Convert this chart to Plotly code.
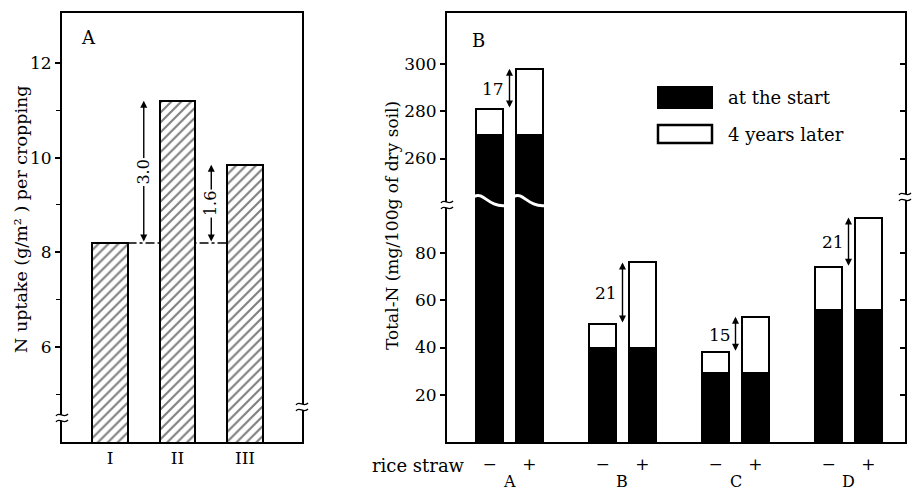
import plotly.graph_objects as go

W, H = 912, 492
FONT = "DejaVu Serif"

# ---------------- data ----------------
# Panel A: N uptake per cropping
a_categories = ["I", "II", "III"]
a_uptake = [8.2, 11.2, 9.85]
a_diff_labels = ["3.0", "1.6"]
a_yticks = [6, 8, 10, 12]
a_minor_ticks = [5, 7, 9, 11]

# Panel B: Total-N in soils
b_soils = ["A", "B", "C", "D"]
b_straw = ["\u2212", "+"]
b_start = [270, 40, 29, 56]
b_later_minus = [281, 50, 38, 74]
b_later_plus = [298, 76, 53, 95]
b_diff_labels = ["17", "21", "15", "21"]
b_yticks = [20, 40, 60, 80, 260, 280, 300]
BREAK_SHIFT = 140   # values above the axis break are drawn this much lower


def disp(v):
    return v - BREAK_SHIFT if v > 200 else v


# ---------------- helpers (pixel -> paper for decorations) ----------------
def X(p):
    return p / W


def Y(p):
    return 1 - p / H


A_DOM = [X(62), X(302)]
B_DOM = [X(447), X(905)]
Y_DOM = [Y(442), Y(13)]

fig = go.Figure()

# ---- Panel A bars ----
a_x = list(range(len(a_categories)))
fig.add_trace(go.Bar(
    x=a_x, y=a_uptake, width=0.52, xaxis="x", yaxis="y",
    marker=dict(color="white", line=dict(color="black", width=2),
                pattern=dict(shape="/", fgcolor="black", bgcolor="white",
                             size=7, solidity=0.3)),
    showlegend=False, hoverinfo="skip"))

# ---- Panel B bars ----
offsets = [-0.175, 0.175]
bx, b_base, b_top = [], [], []
for i in range(len(b_soils)):
    for j, later in enumerate([b_later_minus[i], b_later_plus[i]]):
        bx.append(i + offsets[j])
        b_base.append(disp(b_start[i]))
        b_top.append(disp(later))

fig.add_trace(go.Bar(
    x=bx, y=b_base, width=0.24, xaxis="x2", yaxis="y2",
    marker=dict(color="black", line=dict(color="black", width=2)),
    showlegend=False, hoverinfo="skip"))
fig.add_trace(go.Bar(
    x=bx, y=[t - b for t, b in zip(b_top, b_base)], base=b_base, width=0.24,
    xaxis="x2", yaxis="y2",
    marker=dict(color="white", line=dict(color="black", width=2)),
    showlegend=False, hoverinfo="skip"))
fig.add_trace(go.Scatter(x=[None], y=[None], xaxis="x2", yaxis="y3",
                         showlegend=False, hoverinfo="skip"))

shapes = []
annotations = []

# ---- Panel A reference line and difference arrows ----
shapes.append(dict(type="line", xref="x", yref="y", layer="below",
                   x0=a_x[0] + 0.26, x1=a_x[2] - 0.26,
                   y0=a_uptake[0], y1=a_uptake[0],
                   line=dict(color="black", width=1.5, dash="dashdot")))
for k, lab in enumerate(a_diff_labels):
    xm = a_x[k] + 0.5
    top = a_uptake[k + 1]
    annotations.append(dict(xref="x", yref="y", axref="x", ayref="y",
                            x=xm, y=top, ax=xm, ay=a_uptake[0], text="",
                            showarrow=True, arrowside="end+start", arrowhead=2,
                            arrowsize=1, arrowwidth=1.4, arrowcolor="black"))
    annotations.append(dict(xref="x", yref="y", x=xm, y=(top + a_uptake[0]) / 2,
                            text=lab, textangle=-90, showarrow=False,
                            xanchor="center", yanchor="middle",
                            bgcolor="white", borderpad=1,
                            font=dict(family=FONT, size=16, color="black")))

# ---- Panel B difference arrows ----
for i, lab in enumerate(b_diff_labels):
    lo, hi = disp(b_later_minus[i]), disp(b_later_plus[i])
    annotations.append(dict(xref="x2", yref="y2", axref="x2", ayref="y2",
                            x=i, y=hi, ax=i, ay=lo, text="",
                            showarrow=True, arrowside="end+start", arrowhead=2,
                            arrowsize=1, arrowwidth=1.4, arrowcolor="black"))
    annotations.append(dict(xref="x2", yref="y2", x=i, y=(lo + hi) / 2,
                            text=lab, showarrow=False, xanchor="right",
                            yanchor="middle", xshift=-3,
                            font=dict(family=FONT, size=17, color="black")))

# wavy break across the tall bars of soil A
for j in range(2):
    xc = 0 + offsets[j]
    x0, x1 = xc - 0.135, xc + 0.135
    w = x1 - x0
    shapes.append(dict(type="path", xref="x2", yref="y2",
                       path=f"M {x0},{104} C {x0 + 0.3 * w},{106} {x0 + 0.45 * w},{99.5} {x1},{100}",
                       line=dict(color="white", width=3)))

# axis break marks
def squiggle(xp, yp):
    out = [dict(type="line", xref="paper", yref="paper", x0=X(xp), x1=X(xp),
                y0=Y(yp - 3), y1=Y(yp + 3), line=dict(color="white", width=4))]
    for dy in (-3, 3):
        yy = yp + dy
        out.append(dict(type="path", xref="paper", yref="paper",
                        path=(f"M {X(xp - 6)},{Y(yy + 1)} "
                              f"C {X(xp - 3)},{Y(yy - 4)} {X(xp + 2)},{Y(yy + 4)} {X(xp + 6)},{Y(yy - 1)}"),
                        line=dict(color="black", width=1.3)))
    return out

shapes += squiggle(62, 418)
shapes += squiggle(302, 407)
shapes += squiggle(447, 205)
shapes += squiggle(905, 197)

# ---- custom legend ----
shapes.append(dict(type="rect", xref="paper", yref="paper",
                   x0=X(658), x1=X(712), y0=Y(108), y1=Y(87),
                   fillcolor="black", line=dict(color="black", width=2)))
shapes.append(dict(type="rect", xref="paper", yref="paper",
                   x0=X(658), x1=X(712), y0=Y(143), y1=Y(125),
                   fillcolor="white", line=dict(color="black", width=2.5)))


def label(xp, yp, text, size, xanchor="center", angle=0):
    return dict(xref="paper", yref="paper", x=X(xp), y=Y(yp), text=text,
                showarrow=False, xanchor=xanchor, yanchor="middle",
                textangle=angle, font=dict(family=FONT, size=size, color="black"))


annotations.append(label(726, 97, "at the start", 18, xanchor="left"))
annotations.append(label(726, 134, "4 years later", 18, xanchor="left"))
annotations.append(label(88, 37, "A", 18))
annotations.append(label(478, 40, "B", 18))
annotations.append(label(21, 219, "N uptake (g/m\u00b2 ) per cropping", 17.5, angle=-90))
annotations.append(label(392, 226, "Total-N (mg/100g of dry soil)", 17, angle=-90))
annotations.append(label(418, 465, "rice straw", 18))
for i, s in enumerate(b_soils):
    annotations.append(dict(xref="x2", yref="paper", x=i, y=Y(481), text=s,
                            showarrow=False, xanchor="center", yanchor="middle",
                            font=dict(family=FONT, size=16, color="black")))

tickfont = dict(family=FONT, size=17, color="black")
axis_common = dict(showline=True, linecolor="black", linewidth=2, mirror=True,
                   showgrid=False, zeroline=False, tickfont=tickfont,
                   automargin=False)

b_tickpos = [disp(v) for v in b_yticks]

fig.update_layout(
    width=W, height=H, autosize=False,
    margin=dict(l=0, r=0, t=0, b=0, pad=0),
    paper_bgcolor="white", plot_bgcolor="white",
    barmode="overlay", bargap=0,
    xaxis=dict(domain=A_DOM, anchor="y", range=[-0.711, 2.844],
               tickvals=a_x, ticktext=a_categories, ticks="", **axis_common),
    yaxis=dict(domain=Y_DOM, anchor="x", range=[4, 13.05],
               tickvals=a_yticks, ticks="outside", ticklen=5, tickwidth=1.5,
               tickcolor="black",
               minor=dict(tickmode="array", tickvals=a_minor_ticks, ticks="outside",
                          ticklen=4, tickwidth=1.2, tickcolor="black"),
               **axis_common),
    xaxis2=dict(domain=B_DOM, anchor="y2", range=[-0.553, 3.5],
                tickvals=bx, ticktext=b_straw * len(b_soils), ticks="",
                ticklabelstandoff=6, **axis_common),
    yaxis2=dict(domain=Y_DOM, anchor="x2", range=[0, 181.6],
                tickvals=b_tickpos, ticktext=[str(v) for v in b_yticks],
                ticks="outside", ticklen=5, tickwidth=1.5, tickcolor="black",
                **axis_common),
    yaxis3=dict(overlaying="y2", anchor="x2", side="right", range=[0, 181.6],
                tickvals=b_tickpos, showticklabels=False, ticks="inside",
                ticklen=5, tickwidth=1.5, tickcolor="black", automargin=False,
                showline=False, showgrid=False, zeroline=False),
    shapes=shapes, annotations=annotations,
)

fig.write_html("out.html", config={"displayModeBar": False},
               post_script="document.body.style.margin='0';document.body.style.padding='0';")
